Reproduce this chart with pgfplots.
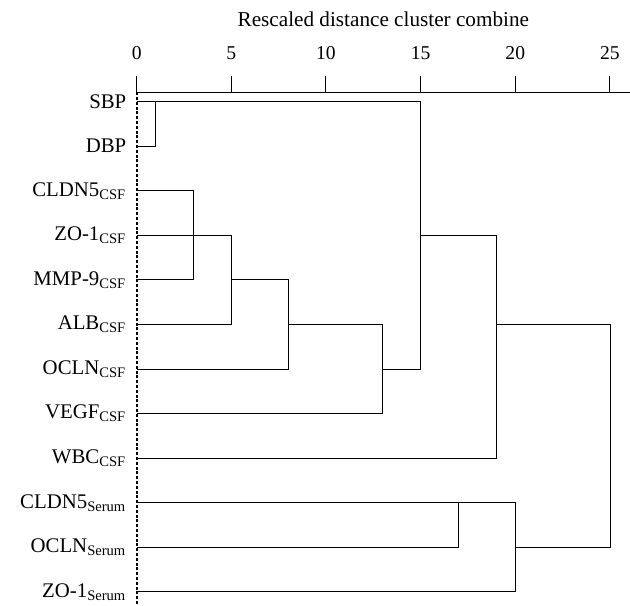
\documentclass[border=0pt]{standalone}
\usepackage{fontspec}
\setmainfont{Liberation Serif}
\usepackage{pgfplots}
\pgfplotsset{compat=1.18}
\begin{document}
\fontsize{10.4}{12}\selectfont
\begin{tikzpicture}
\begin{axis}[
  width=246.65pt, height=256.5pt, scale only axis,
  xmin=0, xmax=26.06, ymin=-0.21, ymax=11.3, y dir=reverse,
  axis x line*=top, axis y line*=left,
  y axis line style={dash pattern=on 1.5pt off 0.9pt, line width=1pt},
  x axis line style={line width=0.6pt},
  xtick={0,5,...,25}, tick align=outside, major tick length=8pt,
  x tick style={line width=0.5pt, black},
  ytick={0,...,11}, y tick style={draw=none},
  yticklabels={SBP, DBP, CLDN5\textsubscript{CSF}, ZO-1\textsubscript{CSF},
    MMP-9\textsubscript{CSF}, ALB\textsubscript{CSF}, OCLN\textsubscript{CSF},
    VEGF\textsubscript{CSF}, WBC\textsubscript{CSF}, CLDN5\textsubscript{Serum},
    OCLN\textsubscript{Serum}, ZO-1\textsubscript{Serum}},
  yticklabel style={inner sep=0pt, xshift=3pt, font=\fontsize{10.4}{12}\selectfont},
  xticklabel style={inner sep=0pt, anchor=south, yshift=8pt, font=\fontsize{9.8}{12}\selectfont},
  /pgf/number format/assume math mode=true,
  title={Rescaled distance cluster combine},
  title style={at={(axis description cs:0.5,1.119)}, anchor=center, inner sep=0pt,
    font=\fontsize{10.6}{12}\selectfont},
  clip=false,
  cycle list={{black, solid, line width=0.55pt, mark=none}},
]
% merges, each drawn as one polyline
\addplot coordinates {(0,1) (1,1) (1,0)};
\addplot coordinates {(0,0) (15,0) (15,6) (13,6)};
\addplot coordinates {(0,2) (3,2) (3,4) (0,4)};
\addplot coordinates {(0,3) (5,3) (5,5) (0,5)};
\addplot coordinates {(5,4) (8,4) (8,6) (0,6)};
\addplot coordinates {(8,5) (13,5) (13,7) (0,7)};
\addplot coordinates {(15,3) (19,3) (19,8) (0,8)};
\addplot coordinates {(19,5) (25,5) (25,10) (20,10)};
\addplot coordinates {(0,9) (20,9) (20,11) (0,11)};
\addplot coordinates {(17,9) (17,10) (0,10)};
\coordinate (bbtl) at (axis cs:-7.22,-2.278);
\coordinate (bbbr) at (axis cs:26.06,11.3);
\end{axis}
\pgfresetboundingbox
\path (bbtl) rectangle (bbbr);
\end{tikzpicture}
\end{document}
